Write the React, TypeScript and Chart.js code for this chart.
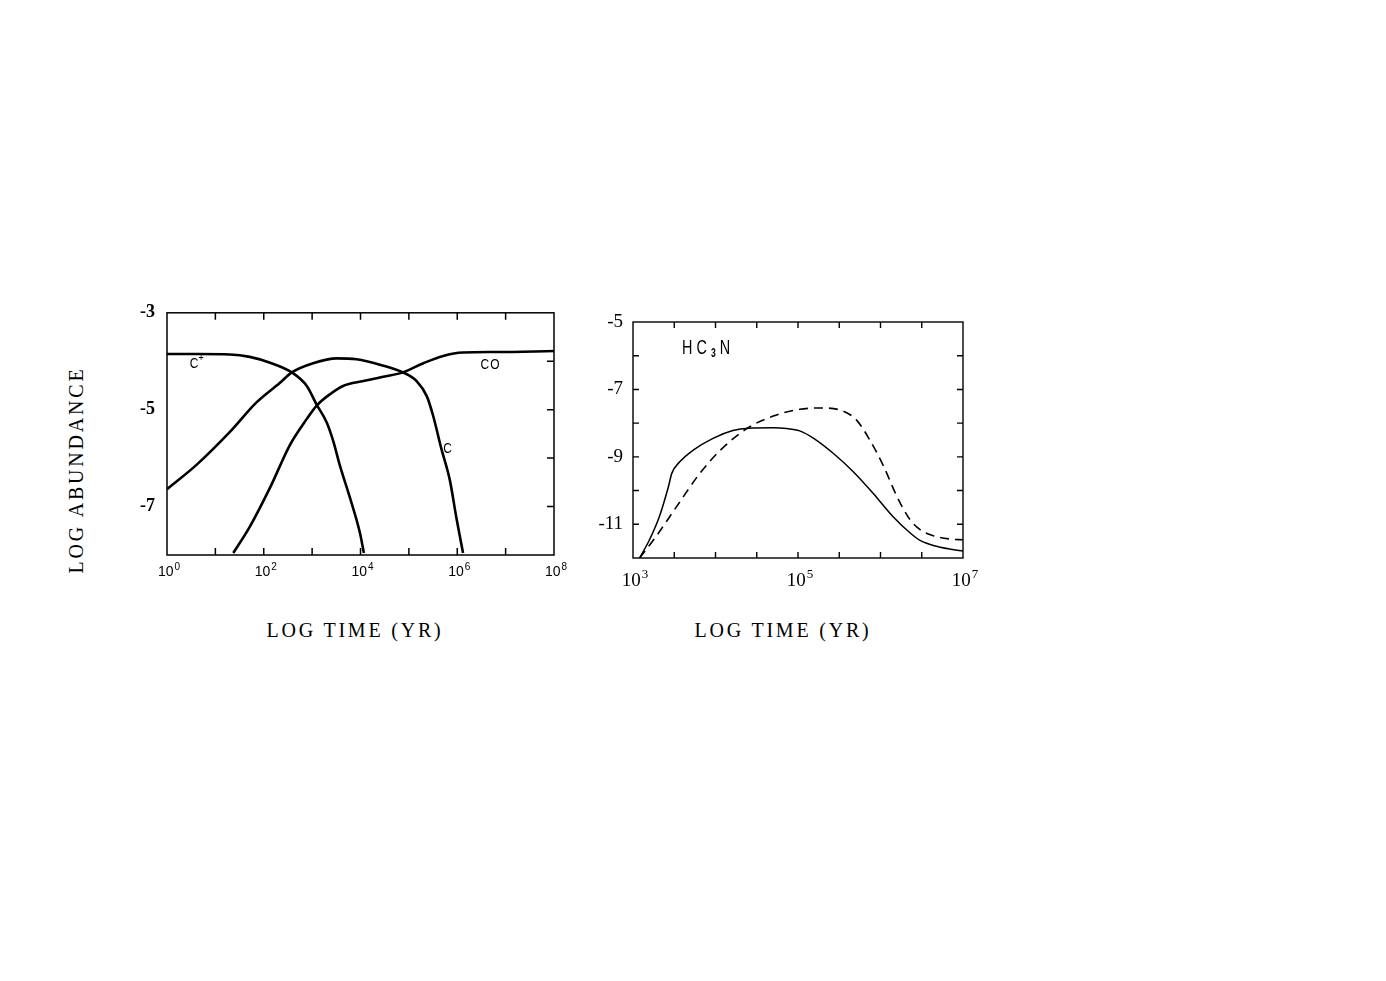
import React, { useEffect, useRef } from "react";
import { Chart, registerables } from "chart.js";
Chart.register(...registerables);

// ---------- Left panel: C+, C, CO (x = log10 time [yr], y = log abundance) ----------
const cPlusLogT = [0, 0.61, 1.3, 1.71, 2.13, 2.58, 2.89, 3.09, 3.3, 3.44, 3.57, 3.78, 3.99, 4.07];
const cPlusAbund = [-3.85, -3.85, -3.86, -3.91, -4.03, -4.23, -4.51, -4.89, -5.26, -5.66, -6.14, -6.81, -7.55, -7.96];

const cLogT = [0, 0.61, 1.3, 1.85, 2.33, 2.58, 3.02, 3.51, 3.92, 4.4, 4.88, 5.16, 5.37, 5.5, 5.67, 5.85, 5.98, 6.12];
const cAbund = [-6.64, -6.14, -5.46, -4.85, -4.45, -4.23, -4.04, -3.94, -3.96, -4.07, -4.23, -4.41, -4.72, -5.12, -5.8, -6.47, -7.22, -7.96];

const coLogT = [1.37, 1.71, 2.13, 2.54, 2.89, 3.09, 3.37, 3.64, 4.06, 4.47, 4.88, 5.3, 5.71, 6.12, 6.81, 8.0];
const coAbund = [-7.96, -7.42, -6.61, -5.73, -5.19, -4.92, -4.68, -4.51, -4.41, -4.32, -4.23, -4.04, -3.89, -3.82, -3.81, -3.79];

const leftXTickExponents = [0, 2, 4, 6, 8];
const leftYTickLabels: Record<number, string> = { [-3]: "-3", [-5]: "-5", [-7]: "-7" };

// ---------- Right panel: HC3N ----------
const hcSolidLogT = [3.08, 3.2, 3.32, 3.43, 3.47, 3.57, 3.73, 3.97, 4.21, 4.4, 4.7, 4.86, 5.02, 5.19, 5.43, 5.67, 5.91, 6.15, 6.36, 6.48, 6.64, 6.85, 7.0];
const hcSolidAbund = [-12.0, -11.46, -10.77, -9.88, -9.49, -9.14, -8.8, -8.45, -8.22, -8.15, -8.14, -8.16, -8.23, -8.45, -8.9, -9.44, -10.08, -10.77, -11.26, -11.48, -11.63, -11.74, -11.79];

const hcDashLogT = [3.08, 3.28, 3.53, 3.81, 4.06, 4.38, 4.7, 5.02, 5.27, 5.51, 5.71, 5.87, 6.04, 6.2, 6.36, 6.48, 6.64, 6.85, 7.0];
const hcDashAbund = [-12.0, -11.36, -10.47, -9.49, -8.8, -8.16, -7.79, -7.59, -7.55, -7.61, -7.91, -8.5, -9.29, -10.18, -10.87, -11.16, -11.34, -11.44, -11.46];

const rightXTickExponents = [3, 5, 7];
const rightYTickLabels: Record<number, string> = { [-5]: "-5", [-7]: "-7", [-9]: "-9", [-11]: "-11" };

const toPts = (xs: number[], ys: number[]) => xs.map((x, i) => ({ x, y: ys[i] }));

const framePlugin = {
  id: "frame",
  afterDatasetsDraw(chart: any, _args: any, opts: any) {
    const { ctx, chartArea } = chart;
    const { left, right, top, bottom } = chartArea;
    const xs = chart.scales.x;
    const ys = chart.scales.y;
    ctx.save();
    ctx.strokeStyle = "#000";
    ctx.lineWidth = opts.lineWidth || 1.5;
    ctx.strokeRect(left, top, right - left, bottom - top);
    const len = opts.tickLen || 7;
    ctx.beginPath();
    xs.ticks.forEach((t: any) => {
      const px = xs.getPixelForValue(t.value);
      if (px <= left + 1 || px >= right - 1) return;
      ctx.moveTo(px, bottom);
      ctx.lineTo(px, bottom - len);
      ctx.moveTo(px, top);
      ctx.lineTo(px, top + len);
    });
    ys.ticks.forEach((t: any) => {
      const py = ys.getPixelForValue(t.value);
      if (py <= top + 1 || py >= bottom - 1) return;
      ctx.moveTo(right, py);
      ctx.lineTo(right - len, py);
      if (opts.leftTicks) {
        ctx.moveTo(left, py);
        ctx.lineTo(left + len, py);
      }
    });
    ctx.stroke();
    ctx.restore();
  },
};

// "10^n" tick labels under the x axis
const powerTicksPlugin = {
  id: "powerTicks",
  afterDraw(chart: any, _args: any, opts: any) {
    const { ctx, chartArea } = chart;
    const xs = chart.scales.x;
    ctx.save();
    ctx.fillStyle = "#000";
    ctx.textBaseline = "alphabetic";
    ctx.textAlign = "left";
    const baseY = chartArea.bottom + opts.offset;
    (opts.exponents || []).forEach((e: number) => {
      const px = xs.getPixelForValue(e);
      ctx.font = `${opts.baseSize}px ${opts.family}`;
      const wb = ctx.measureText("10").width;
      ctx.font = `${opts.expSize}px ${opts.family}`;
      const we = ctx.measureText(String(e)).width;
      const start = px - (wb + we + opts.expGap) / 2 + (opts.shift || 0);
      ctx.font = `${opts.baseSize}px ${opts.family}`;
      ctx.fillText("10", start, baseY);
      ctx.font = `${opts.expSize}px ${opts.family}`;
      ctx.fillText(String(e), start + wb + opts.expGap, baseY - opts.raise);
    });
    ctx.restore();
  },
};

// text labels near curves: parts = [{text, dy, size, bold}]
const labelPlugin = {
  id: "curveLabels",
  afterDatasetsDraw(chart: any, _args: any, opts: any) {
    const { ctx } = chart;
    const xs = chart.scales.x;
    const ys = chart.scales.y;
    ctx.save();
    ctx.fillStyle = "#000";
    ctx.textBaseline = "middle";
    ctx.textAlign = "left";
    (opts.items || []).forEach((item: any) => {
      const sx = item.sx || 1;
      let px = xs.getPixelForValue(item.x);
      const py = ys.getPixelForValue(item.y);
      item.parts.forEach((p: any) => {
        ctx.font = `${p.bold ? "bold " : ""}${p.size}px ${item.family}`;
        ctx.save();
        ctx.translate(px, py + (p.dy || 0));
        ctx.scale(sx, 1);
        ctx.fillText(p.text, 0, 0);
        ctx.restore();
        px += ctx.measureText(p.text).width * sx + (item.gap || 0);
      });
    });
    ctx.restore();
  },
};

function makeLeft(canvas: HTMLCanvasElement) {
  return new Chart(canvas, {
    type: "line",
    data: {
      datasets: [
        { data: toPts(cPlusLogT, cPlusAbund), borderColor: "#000", borderWidth: 2.6, pointRadius: 0, cubicInterpolationMode: "monotone" },
        { data: toPts(cLogT, cAbund), borderColor: "#000", borderWidth: 2.6, pointRadius: 0, cubicInterpolationMode: "monotone" },
        { data: toPts(coLogT, coAbund), borderColor: "#000", borderWidth: 2.6, pointRadius: 0, cubicInterpolationMode: "monotone" },
      ],
    },
    options: {
      animation: false,
      responsive: false,
      maintainAspectRatio: false,
      layout: { padding: { top: 20, right: 26, left: 0, bottom: 0 } },
      plugins: {
        legend: { display: false },
        tooltip: { enabled: false },
        frame: { lineWidth: 1.5, tickLen: 7, leftTicks: false },
        powerTicks: {
          exponents: leftXTickExponents,
          family: "'Liberation Sans', sans-serif",
          baseSize: 14,
          expSize: 10,
          expGap: 1,
          raise: 6,
          offset: 21,
          shift: 2,
        },
        curveLabels: {
          items: [
            { x: 0.47, y: -4.06, family: "'Liberation Sans', sans-serif", sx: 0.8, parts: [{ text: "C", size: 15 }, { text: "+", size: 11, dy: -6 }] },
            { x: 6.48, y: -4.07, family: "'Liberation Sans', sans-serif", sx: 0.8, gap: 1, parts: [{ text: "C", size: 15 }, { text: "O", size: 15 }] },
            { x: 5.71, y: -5.8, family: "'Liberation Sans', sans-serif", sx: 0.8, parts: [{ text: "C", size: 15 }] },
          ],
        },
      } as any,
      scales: {
        x: {
          type: "linear",
          min: 0,
          max: 8,
          grid: { display: false, drawTicks: false },
          border: { display: false },
          ticks: { display: false, stepSize: 1, autoSkip: false, maxRotation: 0 },
          afterFit: (s: any) => { s.height = 45; },
        },
        y: {
          type: "linear",
          min: -8,
          max: -3,
          grid: { display: false, drawTicks: false },
          border: { display: false },
          ticks: {
            stepSize: 1,
            autoSkip: false,
            padding: 12,
            color: "#000",
            font: { family: "'Liberation Serif', serif", size: 18, weight: "bold" },
            callback: (v: any) => leftYTickLabels[Math.round(Number(v))] ?? "",
          },
          afterFit: (s: any) => { s.width = 67; },
        },
      },
    },
    plugins: [framePlugin, labelPlugin, powerTicksPlugin],
  } as any);
}

function makeRight(canvas: HTMLCanvasElement) {
  return new Chart(canvas, {
    type: "line",
    data: {
      datasets: [
        { data: toPts(hcSolidLogT, hcSolidAbund), borderColor: "#000", borderWidth: 1.5, pointRadius: 0, cubicInterpolationMode: "monotone" },
        { data: toPts(hcDashLogT, hcDashAbund), borderColor: "#000", borderWidth: 1.6, borderDash: [9, 6], pointRadius: 0, cubicInterpolationMode: "monotone" },
      ],
    },
    options: {
      animation: false,
      responsive: false,
      maintainAspectRatio: false,
      layout: { padding: { top: 22, right: 37, left: 0, bottom: 0 } },
      plugins: {
        legend: { display: false },
        tooltip: { enabled: false },
        frame: { lineWidth: 1.4, tickLen: 6, leftTicks: true },
        powerTicks: {
          exponents: rightXTickExponents,
          family: "'Liberation Serif', serif",
          baseSize: 19,
          expSize: 13,
          expGap: 1,
          raise: 8,
          offset: 28,
          shift: 2,
        },
        curveLabels: {
          items: [
            {
              x: 3.595,
              y: -5.78,
              family: "'Liberation Sans', sans-serif",
              sx: 0.72,
              gap: 4,
              parts: [
                { text: "H", size: 20 },
                { text: "C", size: 20 },
                { text: "3", size: 12, dy: 5, bold: true },
                { text: "N", size: 20 },
              ],
            },
          ],
        },
      } as any,
      scales: {
        x: {
          type: "linear",
          min: 3,
          max: 7,
          grid: { display: false, drawTicks: false },
          border: { display: false },
          ticks: { display: false, stepSize: 0.5, autoSkip: false, maxRotation: 0 },
          afterFit: (s: any) => { s.height = 42; },
        },
        y: {
          type: "linear",
          min: -12,
          max: -5,
          grid: { display: false, drawTicks: false },
          border: { display: false },
          ticks: {
            stepSize: 1,
            autoSkip: false,
            padding: 10,
            color: "#000",
            font: { family: "'Liberation Serif', serif", size: 19 },
            callback: (v: any) => rightYTickLabels[Math.round(Number(v))] ?? "",
          },
          afterFit: (s: any) => { s.width = 53; },
        },
      },
    },
    plugins: [framePlugin, labelPlugin, powerTicksPlugin],
  } as any);
}

const titleStyle: React.CSSProperties = {
  position: "absolute",
  fontFamily: "'Liberation Serif', 'DejaVu Serif', serif",
  fontSize: 20,
  letterSpacing: 2.8,
  whiteSpace: "nowrap",
  color: "#000",
};

export default function App() {
  const leftRef = useRef<HTMLCanvasElement>(null);
  const rightRef = useRef<HTMLCanvasElement>(null);

  useEffect(() => {
    const l = makeLeft(leftRef.current!);
    const r = makeRight(rightRef.current!);
    return () => {
      l.destroy();
      r.destroy();
    };
  }, []);

  return (
    <div style={{ position: "absolute", left: 0, top: 0, width: 1386, height: 981, background: "#fff" }}>
      <canvas ref={leftRef} width={480} height={310} style={{ position: "absolute", left: 100, top: 290, width: 480, height: 310 }} />
      <canvas ref={rightRef} width={420} height={300} style={{ position: "absolute", left: 580, top: 300, width: 420, height: 300 }} />
      <div style={{ ...titleStyle, left: 76, top: 470, transform: "translate(-50%, -50%) rotate(-90deg)" }}>LOG ABUNDANCE</div>
      <div style={{ ...titleStyle, left: 355, top: 630, transform: "translate(-50%, -50%)" }}>LOG TIME (YR)</div>
      <div style={{ ...titleStyle, left: 783, top: 630, transform: "translate(-50%, -50%)" }}>LOG TIME (YR)</div>
    </div>
  );
}
